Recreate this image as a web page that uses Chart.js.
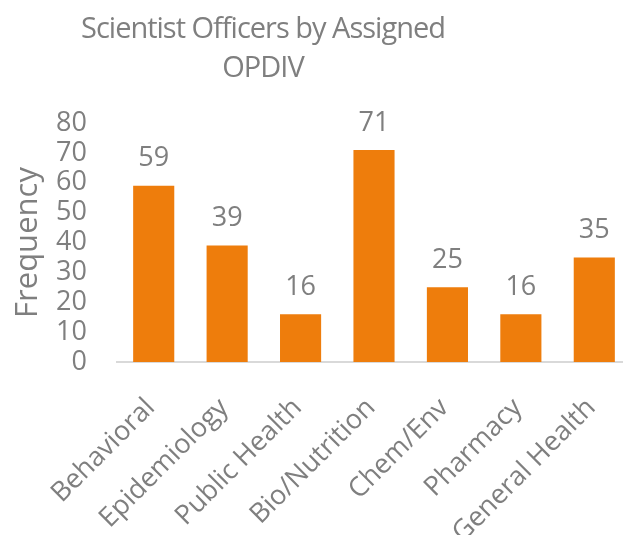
<!DOCTYPE html>
<html>
<head>
<meta charset="utf-8">
<script src="https://cdn.jsdelivr.net/npm/chart.js@4.4.0/dist/chart.umd.min.js"></script>
<style>
  html, body { margin: 0; padding: 0; background: #fff; overflow: hidden; }
  #wrap { position: relative; width: 631px; height: 535px; }
  #title { position: absolute; left: 0; top: 7px; width: 526px; text-align: center;
           font-family: "Open Sans", sans-serif; font-size: 29px; line-height: 39px; color: #7f7f7f;
           letter-spacing: -1px; }
</style>
</head>
<body>
<div id="wrap">
  <canvas id="c" width="631" height="535"></canvas>
  <div id="title">Scientist Officers by Assigned<br>OPDIV</div>
</div>
<script>
const categories = ["Behavioral", "Epidemiology", "Public Health", "Bio/Nutrition", "Chem/Env", "Pharmacy", "General Health"];
const frequency = [59, 39, 16, 71, 25, 16, 35];
const yTicks = [0, 10, 20, 30, 40, 50, 60, 70, 80];
const yAxisTitle = "Frequency";

const FONT = '"Open Sans", sans-serif';
const GRAY = '#7f7f7f';

const valueLabels = {
  id: 'valueLabels',
  afterDatasetsDraw(chart) {
    const ctx = chart.ctx;
    const meta = chart.getDatasetMeta(0);
    ctx.save();
    ctx.font = '27px ' + FONT;
    ctx.fillStyle = GRAY;
    ctx.textAlign = 'center';
    ctx.textBaseline = 'middle';
    meta.data.forEach((bar, i) => {
      ctx.fillText(String(chart.data.datasets[0].data[i]), bar.x, bar.y - 27);
    });
    ctx.restore();
  }
};

new Chart(document.getElementById('c'), {
  type: 'bar',
  data: {
    labels: categories,
    datasets: [{
      data: frequency,
      backgroundColor: '#EE7D0C',
      borderWidth: 0,
      categoryPercentage: 1,
      barPercentage: 0.56
    }]
  },
  options: {
    responsive: false,
    animation: false,
    layout: { padding: { top: 123, left: 0, right: 0, bottom: 0 } },
    plugins: { legend: { display: false }, tooltip: { enabled: false }, title: { display: false } },
    scales: {
      x: {
        grid: { display: false, drawTicks: false },
        border: { display: true, color: '#d9d9d9', width: 2 },
        ticks: { color: GRAY, font: { family: FONT, size: 27 }, minRotation: 45, maxRotation: 45, padding: 30, labelOffset: -3, autoSkip: false },
        afterFit(s) { s.height = 173; s.paddingLeft = 0; s.paddingRight = 0; }
      },
      y: {
        min: 0, max: 80,
        afterBuildTicks(s) { s.ticks = yTicks.map(v => ({ value: v })); },
        grid: { display: false, drawTicks: false },
        border: { display: false },
        ticks: { color: GRAY, font: { family: FONT, size: 27 }, padding: 30, autoSkip: false },
        title: { display: true, text: yAxisTitle, color: GRAY, font: { family: FONT, size: 31 }, padding: { top: 10, bottom: 0 } },
        afterFit(s) { s.width = 117; }
      }
    }
  },
  plugins: [valueLabels]
});
</script>
</body>
</html>
